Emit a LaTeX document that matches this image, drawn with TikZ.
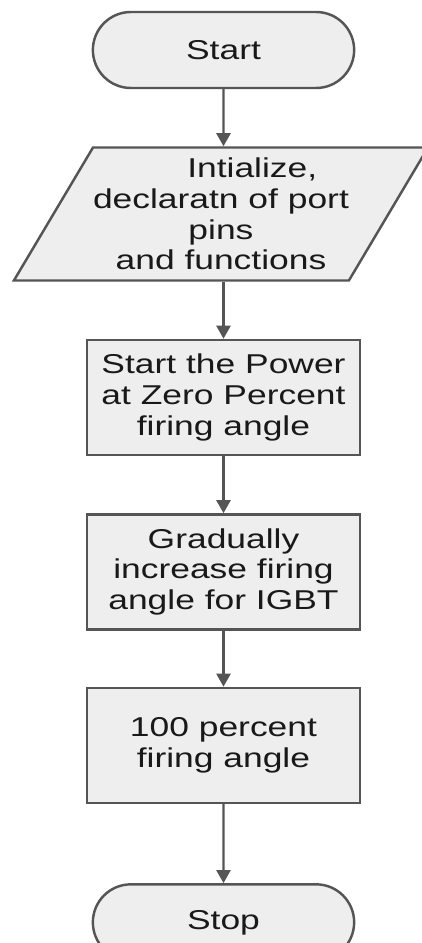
\documentclass[tikz,border=0pt]{standalone}
\usepackage{fontspec}
\newfontfamily\flowfont[FakeStretch=1.3]{Liberation Sans}
\usetikzlibrary{positioning,shapes.misc,shapes.geometric,arrows.meta}
\definecolor{lineGray}{RGB}{85,85,85}
\definecolor{fillGray}{RGB}{238,238,238}

\begin{document}
\begin{tikzpicture}[
  font=\flowfont\fontsize{15.5}{17.4}\selectfont,
  flowbox/.style={draw=lineGray,line width=1.4pt,fill=fillGray,align=center,text=black!90},
  terminal/.style={flowbox,rounded rectangle,minimum width=5.46cm,minimum height=1.52cm},
  iobox/.style={flowbox,trapezium,trapezium left angle=54.7,trapezium right angle=125.3,
    trapezium stretches=true,minimum width=8.1cm,minimum height=2.66cm,inner sep=0pt},
  process/.style={flowbox,rectangle,minimum width=5.46cm,minimum height=2.3cm},
  flow/.style={draw=lineGray,line width=1.4pt,-{Triangle[width=0.28cm,length=0.26cm]}}
]
\useasboundingbox (0,0) rectangle (8.44,-18.86);

%Blocks
\node[terminal] (start) at (4.47,-1.0) {Start};
\node[iobox,below=1.14cm of start,xshift=-0.05cm] (init) {\hspace*{1.25cm}Intialize,\\declaratn of port\\pins\\and functions};
\node[process,below=1.14cm of init,xshift=0.05cm] (zero) {Start the Power\\at Zero Percent\\firing angle};
\node[process,below=1.14cm of zero] (ramp) {Gradually\\increase firing\\angle for IGBT};
\node[process,below=1.12cm of ramp] (full) {100 percent\\firing angle};
\node[terminal,below=1.58cm of full] (stop) {Stop};

%Arrows
\draw[flow] (start) -- (start |- init.north);
\draw[flow] (init.south -| zero) -- (zero);
\draw[flow] (zero) -- (ramp);
\draw[flow] (ramp) -- (full);
\draw[flow] (full) -- (stop);
\end{tikzpicture}
\end{document}
